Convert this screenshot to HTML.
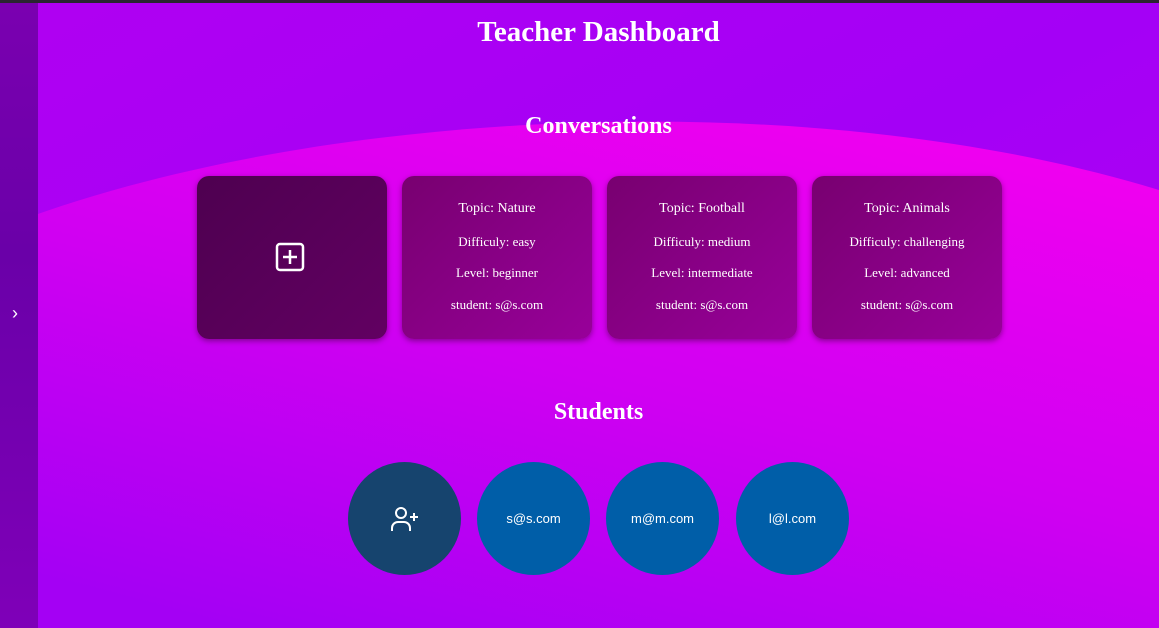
<!DOCTYPE html>
<html style="overflow:hidden;height:628px"><head><meta charset="utf-8"><style>
*{margin:0;padding:0;box-sizing:border-box}
body{width:1159px;height:628px;overflow:hidden;position:relative;font-family:"Liberation Sans",sans-serif;background:#a800f2}
.bg{position:absolute;left:0;top:0;display:block}
.topbar{position:absolute;left:0;top:0;width:1159px;height:3px;background:#2a2530}
.side{position:absolute;left:0;top:3px;width:38px;height:625px;background:linear-gradient(180deg,#7a00b0,#6a00a8 40%,#7f00b8)}
.side span{position:absolute;left:12px;top:300px;color:#fff;font-size:18px}
h1,h2{position:absolute;left:38px;width:1121px;text-align:center;color:#fff;font-family:"Liberation Serif",serif;font-weight:bold}
h1{top:16px;font-size:29px}
h2{font-size:24px}
.card{position:absolute;top:176px;width:190px;height:163px;border-radius:12px;background:linear-gradient(135deg,#780070,#98009a);box-shadow:0 2px 6px rgba(80,0,80,.6);color:#fff;text-align:center;font-family:"Liberation Serif",serif;font-size:13px}
.card p{position:absolute;width:100%}
.circ{position:absolute;top:462px;width:113px;height:113px;border-radius:50%;background:#005ea8;color:#fff;font-size:13px;display:flex;align-items:center;justify-content:center}
</style></head><body>
<svg class="bg" width="1159" height="628">
<defs>
<linearGradient id="top" x1="0" y1="0" x2="1" y2="1"><stop offset="0" stop-color="#b000f2"/><stop offset="0.5" stop-color="#a400f6"/><stop offset="1" stop-color="#b400f0"/></linearGradient>
<linearGradient id="low" x1="0.8" y1="0" x2="0.2" y2="1"><stop offset="0" stop-color="#f000f0"/><stop offset="0.5" stop-color="#d000f2"/><stop offset="1" stop-color="#a400f4"/></linearGradient>
</defs>
<rect width="1159" height="628" fill="url(#top)"/>
<path d="M0 228 C 300 110, 800 80, 1159 190 L1159 628 L0 628 Z" fill="url(#low)"/>
</svg>
<div class="topbar"></div>
<div class="side"><span>›</span></div>
<h1>Teacher Dashboard</h1>
<h2 style="top:113px">Conversations</h2>
<div class="card" style="left:197px;background:linear-gradient(135deg,#4e0050,#620062)">
<svg width="32" height="32" style="position:absolute;left:78px;top:66px" viewBox="0 0 32 32"><rect x="2" y="2" width="26" height="26" rx="3" fill="none" stroke="#fff" stroke-width="2.5"/><path d="M15 8v14M8 15h14" stroke="#fff" stroke-width="2.5"/></svg></div>
<div class="card" style="left:402px"><p style="top:25px;font-size:14px">Topic: Nature</p><p style="top:58px">Difficuly: easy</p><p style="top:89px">Level: beginner</p><p style="top:121px">student: s@s.com</p></div>
<div class="card" style="left:607px"><p style="top:25px;font-size:14px">Topic: Football</p><p style="top:58px">Difficuly: medium</p><p style="top:89px">Level: intermediate</p><p style="top:121px">student: s@s.com</p></div>
<div class="card" style="left:812px"><p style="top:25px;font-size:14px">Topic: Animals</p><p style="top:58px">Difficuly: challenging</p><p style="top:89px">Level: advanced</p><p style="top:121px">student: s@s.com</p></div>
<h2 style="top:399px">Students</h2>
<div class="circ" style="left:348px;background:#16446e"><svg width="30" height="28" viewBox="0 0 30 28"><circle cx="11" cy="8" r="5" fill="none" stroke="#fff" stroke-width="2"/><path d="M2 26v-3a6 6 0 0 1 6-6h6a6 6 0 0 1 6 6v3" fill="none" stroke="#fff" stroke-width="2"/><path d="M24 8v8M20 12h8" stroke="#fff" stroke-width="2"/></svg></div>
<div class="circ" style="left:477px">s@s.com</div>
<div class="circ" style="left:606px">m@m.com</div>
<div class="circ" style="left:736px">l@l.com</div>
</body></html>
